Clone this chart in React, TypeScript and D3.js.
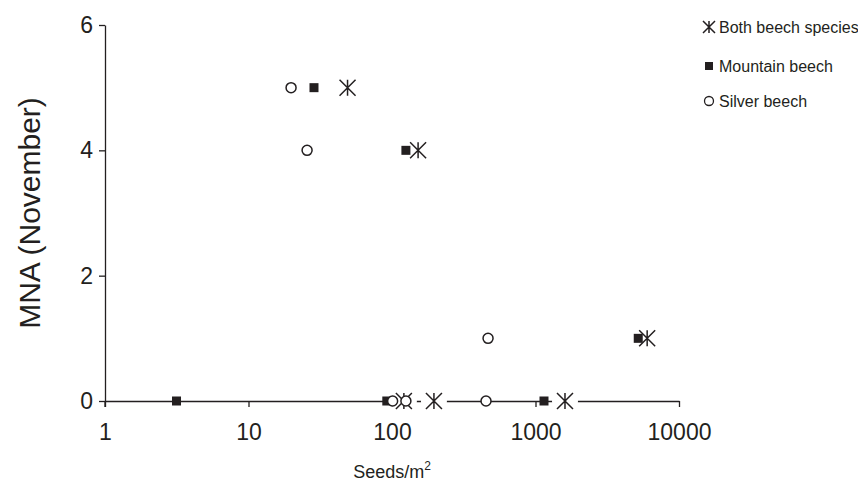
import { useEffect, useRef } from "react";
import * as d3 from "d3";

// seeds per m2 and MNA values
const bothSeeds = [49, 152, 6000, 121, 196, 1605];
const bothMna = [5, 4, 1, 0, 0, 0];
const mountainSeeds = [28.6, 125, 5200, 3.15, 92, 1146];
const mountainMna = [5, 4, 1, 0, 0, 0];
const silverSeeds = [19.8, 25.6, 467, 101, 125, 452];
const silverMna = [5, 4, 1, 0, 0, 0];

const xTicks = [1, 10, 100, 1000, 10000];
const yTicks = [0, 2, 4, 6];
const legendLabels = ["Both beech species", "Mountain beech", "Silver beech"];

const ink = "#231f20";
const font = "Liberation Sans, Arial, sans-serif";

export default function App() {
  const svgRef = useRef<SVGSVGElement>(null);

  useEffect(() => {
    const svg = d3.select(svgRef.current).html(null);
    const W = 858;
    const H = 490;
    svg.attr("width", W).attr("height", H);

    const x = d3.scaleLog().domain([1, 10000]).range([105, 679]);
    const y = d3.scaleLinear().domain([0, 6]).range([401, 25]);

    // axes
    const xAxis = svg
      .append("g")
      .attr("transform", `translate(0,${y(0)})`)
      .call(d3.axisBottom(x).tickValues(xTicks).tickFormat((d) => String(d)).tickSize(6).tickPadding(17).tickSizeOuter(0));
    const yAxis = svg
      .append("g")
      .attr("transform", `translate(${x(1)},0)`)
      .call(d3.axisLeft(y).tickValues(yTicks).tickFormat(d3.format("d")).tickSize(6).tickPadding(6).tickSizeOuter(0));

    [xAxis, yAxis].forEach((g) => {
      g.select(".domain").attr("stroke", ink).attr("stroke-width", 1.3);
      g.selectAll(".tick line").attr("stroke", ink).attr("stroke-width", 1.3);
      g.selectAll(".tick text")
        .attr("fill", ink)
        .style("font-family", font)
        .style("font-size", "23px");
    });
    // y axis reaches a little below zero like the original
    svg
      .append("line")
      .attr("x1", x(1))
      .attr("x2", x(1))
      .attr("y1", y(0))
      .attr("y2", y(0) + 6)
      .attr("stroke", ink)
      .attr("stroke-width", 1.3);

    svg
      .append("text")
      .attr("transform", `translate(29,${(y(0) + y(6)) / 2}) rotate(-90)`)
      .attr("text-anchor", "middle")
      .attr("dy", "0.35em")
      .attr("fill", ink)
      .style("font-family", font)
      .style("font-size", "30px")
      .text("MNA (November)");

    const xt = svg
      .append("text")
      .attr("x", 392)
      .attr("y", 478)
      .attr("text-anchor", "middle")
      .attr("fill", ink)
      .style("font-family", font)
      .style("font-size", "18px");
    xt.append("tspan").text("Seeds/m");
    xt.append("tspan").attr("dy", -8).style("font-size", "12px").text("2");

    const star = (g: d3.Selection<SVGGElement, unknown, null, undefined>, cx: number, cy: number, r: number) => {
      g.append("path")
        .attr(
          "d",
          `M${cx},${cy - r}L${cx},${cy + r}M${cx - r},${cy - r}L${cx + r},${cy + r}M${cx - r},${cy + r}L${cx + r},${cy - r}`
        )
        .attr("stroke", ink)
        .attr("stroke-width", 1.5)
        .attr("fill", "none");
    };

    // white halos behind the stars hide the axis line
    const halo = svg.append("g");
    bothSeeds.forEach((s, i) => {
      halo.append("circle").attr("cx", x(s)).attr("cy", y(bothMna[i])).attr("r", 13).attr("fill", "#fff");
    });

    const squares = svg.append("g");
    mountainSeeds.forEach((s, i) => {
      squares
        .append("rect")
        .attr("x", x(s) - 4.5)
        .attr("y", y(mountainMna[i]) - 4.5)
        .attr("width", 9)
        .attr("height", 9)
        .attr("fill", ink);
    });

    const stars = svg.append("g");
    bothSeeds.forEach((s, i) => star(stars, x(s), y(bothMna[i]), 8));

    const circles = svg.append("g");
    silverSeeds.forEach((s, i) => {
      circles
        .append("circle")
        .attr("cx", x(s))
        .attr("cy", y(silverMna[i]))
        .attr("r", 5)
        .attr("fill", "#fff")
        .attr("stroke", ink)
        .attr("stroke-width", 1.5);
    });

    // legend
    const legend = svg.append("g");
    const rows = [27, 66, 101];
    const lx = 709;
    legendLabels.forEach((label, i) => {
      const cy = rows[i];
      if (i === 0) {
        const g = legend.append("g");
        star(g, lx, cy, 6);
      } else if (i === 1) {
        legend.append("rect").attr("x", lx - 4).attr("y", cy - 4).attr("width", 8).attr("height", 8).attr("fill", ink);
      } else {
        legend
          .append("circle")
          .attr("cx", lx)
          .attr("cy", cy)
          .attr("r", 4.5)
          .attr("fill", "#fff")
          .attr("stroke", ink)
          .attr("stroke-width", 1.3);
      }
      legend
        .append("text")
        .attr("x", lx + 10)
        .attr("y", cy)
        .attr("dy", "0.35em")
        .attr("fill", ink)
        .style("font-family", font)
        .style("font-size", "16px")
        .text(label);
    });
  }, []);

  return <svg ref={svgRef} style={{ position: "absolute", left: 0, top: 0, background: "#fff" }} />;
}
